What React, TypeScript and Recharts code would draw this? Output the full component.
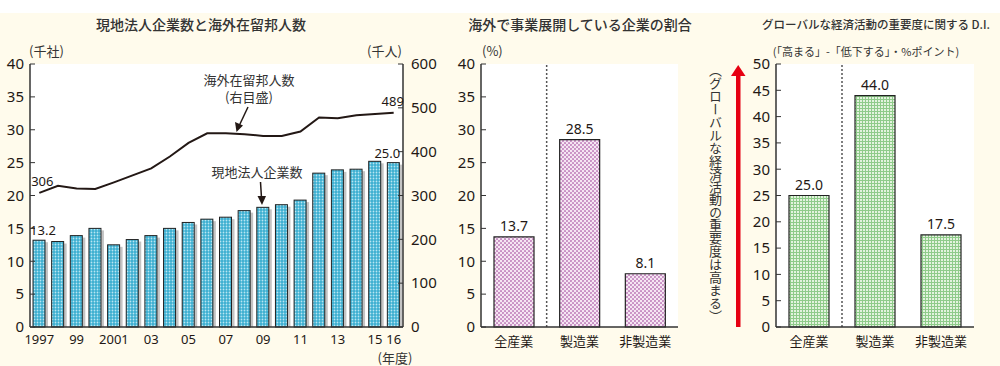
import { ComposedChart, BarChart, Bar, Line, XAxis, YAxis, CartesianGrid, LabelList, ReferenceLine } from "recharts";

// #region data
const years = ["1997", "1998", "1999", "2000", "2001", "2002", "2003", "2004", "2005", "2006", "2007", "2008", "2009", "2010", "2011", "2012", "2013", "2014", "2015", "2016"];
const yearTicks = ["1997", "", "99", "", "2001", "", "03", "", "05", "", "07", "", "09", "", "11", "", "13", "", "15", "16"];
const affiliates = [13.2, 13.0, 13.9, 15.0, 12.5, 13.3, 13.9, 15.0, 15.9, 16.4, 16.7, 17.7, 18.2, 18.6, 19.3, 23.4, 23.9, 24.0, 25.2, 25.0];
const residents = [306, 322, 316, 315, 330, 346, 362, 389, 420, 442, 442, 440, 436, 436, 446, 478, 476, 483, 486, 489];

const sectors = ["全産業", "製造業", "非製造業"];
const overseasShare = [13.7, 28.5, 8.1];
const globalDI = [25.0, 44.0, 17.5];

const leftTicks = [0, 5, 10, 15, 20, 25, 30, 35, 40];
const rightTicks = [0, 100, 200, 300, 400, 500, 600];
const diTicks = [0, 5, 10, 15, 20, 25, 30, 35, 40, 45, 50];
// #endregion

const last = years.length - 1;
const trend = years.map((y, i) => ({
	year: y,
	affiliates: affiliates[i],
	residents: residents[i],
	affFirst: i === 0 ? affiliates[i].toFixed(1) : undefined,
	affLast: i === last ? affiliates[i].toFixed(1) : undefined,
	resFirst: i === 0 ? String(residents[i]) : undefined,
	resLast: i === last ? String(residents[i]) : undefined,
}));
const shareData = sectors.map((s, i) => ({ name: s, value: overseasShare[i] }));
const diData = sectors.map((s, i) => ({ name: s, value: globalDI[i] }));

const ink = "#231815";
const numFont = "'Noto Sans', 'Noto Sans CJK JP', sans-serif";
const jpFont = "'Noto Sans CJK JP', sans-serif";
const yTick = { fontSize: 15, fill: ink, fontFamily: numFont };
const axisLine = { stroke: "#333", strokeWidth: 1.5 };

// end-of-series labels, nudged sideways like the original
const endLabel = (shift: number, lift: number) => (p: any) => {
	if (p.value == null || p.value === "") return null;
	const cx = Number(p.x) + (Number(p.width) || 0) / 2 + shift;
	return (
		<text x={cx} y={Number(p.y) - lift} textAnchor="middle" fontSize={13} fill={ink} fontFamily={numFont}>
			{p.value}
		</text>
	);
};

const ShadowBar = (p: any) => (
	<g>
		<rect x={p.x + p.width} y={p.y + 2} width={3} height={Math.max(p.height - 2, 0)} fill="#c4c4c4" />
		<rect x={p.x} y={p.y} width={p.width} height={p.height} fill={p.fill} stroke="#222" strokeWidth={1} />
	</g>
);

const TrendChart = () => (
	<ComposedChart width={440} height={366} data={trend} margin={{ top: 64, right: 10, bottom: 0, left: 0 }} barSize={12}>
		<defs>
			<pattern id="blueDots" width="3" height="3" patternUnits="userSpaceOnUse">
				<rect width="3" height="3" fill="#3aaed0" />
				<circle cx="1.5" cy="1.5" r="0.9" fill="#b9e6f2" />
			</pattern>
		</defs>
		<CartesianGrid horizontal={false} vertical={false} fill="#fff" />
		<XAxis dataKey="year" interval={0} height={39} tickLine={false} axisLine={axisLine}
			tickFormatter={(v: string) => yearTicks[years.indexOf(v)]}
			tick={{ fontSize: 13, fill: ink, fontFamily: numFont }} />
		<XAxis xAxisId="top" dataKey="year" orientation="top" height={0} tick={false} tickLine={false} axisLine={axisLine} />
		<YAxis yAxisId="l" width={30} domain={[0, 40]} ticks={leftTicks} interval={0} tickSize={-5} tickMargin={11}
			tickLine={{ stroke: "#333" }} axisLine={axisLine} tick={yTick} />
		<YAxis yAxisId="r" orientation="right" width={27} domain={[0, 600]} ticks={rightTicks} interval={0} tickSize={-5} tickMargin={13}
			tickLine={{ stroke: "#333" }} axisLine={axisLine} tick={yTick} />
		<Bar yAxisId="l" dataKey="affiliates" fill="url(#blueDots)" shape={ShadowBar} isAnimationActive={false}>
			<LabelList dataKey="affFirst" content={endLabel(4, 5)} />
			<LabelList dataKey="affLast" content={endLabel(-6, 5)} />
		</Bar>
		<Line yAxisId="r" dataKey="residents" stroke={ink} strokeWidth={2} dot={false} type="linear" isAnimationActive={false}>
			<LabelList dataKey="resFirst" content={endLabel(3, 7)} />
			<LabelList dataKey="resLast" content={endLabel(-1, 7)} />
		</Line>
	</ComposedChart>
);

type SectorProps = {
	data: { name: string; value: number }[];
	max: number;
	ticks: number[];
	pattern: string;
	axisWidth: number;
	width: number;
	rightGap: number;
	defs: React.ReactNode;
};

const SectorChart = ({ data, max, ticks, pattern, axisWidth, width, rightGap, defs }: SectorProps) => (
	<BarChart width={width} height={366} data={data} margin={{ top: 64, right: rightGap, bottom: 0, left: 0 }} barSize={40}>
		<defs>{defs}</defs>
		<CartesianGrid horizontal={false} vertical={false} fill="#fff" />
		<XAxis dataKey="name" interval={0} height={39} tickLine={false} tickMargin={4} axisLine={axisLine}
			tick={{ fontSize: 13, fill: ink, fontFamily: jpFont }} />
		<XAxis xAxisId="top" dataKey="name" orientation="top" height={0} tick={false} tickLine={false} axisLine={axisLine} />
		<YAxis width={axisWidth} domain={[0, max]} ticks={ticks} interval={0} tickSize={-5} tickMargin={11}
			tickLine={{ stroke: "#333" }} axisLine={axisLine} tick={yTick} />
		<YAxis yAxisId="edge" orientation="right" width={0} domain={[0, 1]} tick={false} tickLine={false} axisLine={axisLine} />
		<ReferenceLine x={sectors[0]} position="end" stroke="#555" strokeWidth={1.5} strokeDasharray="2 2" />
		<Bar dataKey="value" fill={`url(#${pattern})`} stroke="#222" strokeWidth={1.2} isAnimationActive={false}>
			<LabelList dataKey="value" position="top" offset={6} formatter={(v: any) => Number(v).toFixed(1)}
				style={{ fontSize: 14, fill: ink, fontFamily: numFont }} />
		</Bar>
	</BarChart>
);

const pinkDefs = (
	<pattern id="pinkCheck" width="4" height="4" patternUnits="userSpaceOnUse">
		<rect width="4" height="4" fill="#f6e6f3" />
		<circle cx="1" cy="1" r="1.05" fill="#c58ac1" />
		<circle cx="3" cy="3" r="1.05" fill="#c58ac1" />
	</pattern>
);

const greenDefs = (
	<pattern id="greenGrid" width="3" height="3" patternUnits="userSpaceOnUse">
		<rect width="3" height="3" fill="#e3f3de" />
		<path d="M0 0.5H3M0.5 0V3" stroke="#8fcb8a" strokeWidth="1" />
	</pattern>
);

const txt = { fill: "#333", fontFamily: jpFont };

export default function App() {
	return (
		<div style={{ position: "relative", width: 1000, height: 366, background: "#fff", overflow: "hidden" }}>
			<style>{`body{margin:0}`}</style>
			<div style={{ position: "absolute", left: 0, top: 13, width: 1000, height: 353, background: "#fffbec" }} />
			<div style={{ position: "absolute", left: 0, top: 0 }}>
				<TrendChart />
			</div>
			<div style={{ position: "absolute", left: 430, top: 0 }}>
				<SectorChart data={shareData} max={40} ticks={leftTicks} pattern="pinkCheck" axisWidth={51}
					width={265} rightGap={17} defs={pinkDefs} />
			</div>
			<div style={{ position: "absolute", left: 745, top: 0 }}>
				<SectorChart data={diData} max={50} ticks={diTicks} pattern="greenGrid" axisWidth={31}
					width={250} rightGap={21} defs={greenDefs} />
			</div>
			<div style={{
				position: "absolute", left: 706, top: 64, height: 264, writingMode: "vertical-rl",
				fontFamily: jpFont, fontSize: 13, color: "#333", lineHeight: "18px", letterSpacing: -0.1,
			}}>
				（グローバルな経済活動の重要度は高まる）
			</div>
			<svg width={1000} height={366} style={{ position: "absolute", left: 0, top: 0, pointerEvents: "none" }}>
				<text x={201} y={30} textAnchor="middle" fontSize={14} fontWeight={500} {...txt}>現地法人企業数と海外在留邦人数</text>
				<text x={580} y={30} textAnchor="middle" fontSize={14} fontWeight={500} {...txt}>海外で事業展開している企業の割合</text>
				<text x={876} y={29} textAnchor="middle" fontSize={11.5} fontWeight={500} {...txt}>グローバルな経済活動の重要度に関する D.I.</text>
				<text x={29} y={56} fontSize={13} {...txt}>(千社)</text>
				<text x={367} y={56} fontSize={13} {...txt}>(千人)</text>
				<text x={482} y={56} fontSize={13} {...txt}>(%)</text>
				<text x={866} y={56} textAnchor="middle" fontSize={11} {...txt}>(「高まる」-「低下する」・%ポイント)</text>
				<text x={395} y={363} textAnchor="middle" fontSize={13} {...txt}>(年度)</text>

				<text x={249} y={85} textAnchor="middle" fontSize={13} {...txt}>海外在留邦人数</text>
				<text x={249} y={102} textAnchor="middle" fontSize={13} {...txt}>(右目盛)</text>
				<line x1={248} y1={107} x2={239.5} y2={125} stroke={ink} strokeWidth={1.5} />
				<polygon points="236.5,132 235,122 243,125.5" fill={ink} />
				<text x={257} y={177} textAnchor="middle" fontSize={13} {...txt}>現地法人企業数</text>
				<line x1={260.5} y1={182} x2={261.5} y2={198} stroke={ink} strokeWidth={1.5} />
				<polygon points="262,205 257.5,196 266,196" fill={ink} />

				<rect x={736} y={74} width={4.5} height={253} fill="#e60012" />
				<polygon points="738.2,65 731,76 745.5,76" fill="#e60012" />
			</svg>
		</div>
	);
}
